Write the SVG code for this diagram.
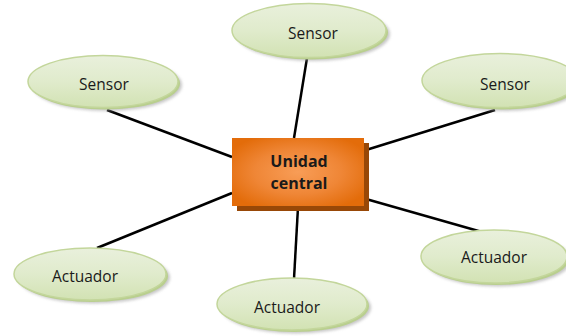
<svg xmlns="http://www.w3.org/2000/svg" width="566" height="336" viewBox="0 0 566 336">
<defs>
<linearGradient id="gEll" x1="0" y1="0" x2="0" y2="1">
<stop offset="0" stop-color="#e9f0dc"/>
<stop offset="0.5" stop-color="#e0ebcc"/>
<stop offset="1" stop-color="#d2e2b3"/>
</linearGradient>
<radialGradient id="gBox" cx="0.5" cy="0.5" r="0.6">
<stop offset="0" stop-color="#f89d57"/>
<stop offset="0.55" stop-color="#ef8636"/>
<stop offset="1" stop-color="#e36c0a"/>
</radialGradient>
<filter id="sh" x="-10%" y="-10%" width="130%" height="140%">
<feGaussianBlur stdDeviation="1.5"/>
</filter>
<style>
.ell{fill:url(#gEll);stroke:#c3d69b;stroke-width:1.5}
.bev{fill:#b9cf8e}
.esh{fill:#9a9a9a;opacity:0.55;filter:url(#sh)}
.lbl{font-family:"Open Sans","Liberation Sans",sans-serif;font-size:15.5px;fill:#1a1a1a;text-anchor:middle}
.blbl{font-family:"Open Sans","Liberation Sans",sans-serif;font-size:16px;font-weight:bold;fill:#1a1a1a;text-anchor:middle}
.con{stroke:#000;stroke-width:2.5;fill:none}
</style>
</defs>
<g id="connectors">
<line class="con" x1="307" y1="58" x2="294" y2="138"/>
<line class="con" x1="107" y1="110" x2="232" y2="157"/>
<line class="con" x1="495" y1="110" x2="366" y2="150"/>
<line class="con" x1="97" y1="248" x2="232" y2="193"/>
<line class="con" x1="298" y1="207" x2="294" y2="279"/>
<line class="con" x1="482" y1="232" x2="366" y2="199"/>
</g>
<g id="central">
<rect x="237" y="143" width="132" height="68" fill="#984807"/>
<rect x="232" y="138" width="132" height="68" fill="url(#gBox)"/>
<text class="blbl" x="299" y="167">Unidad</text>
<text class="blbl" x="299" y="189">central</text>
</g>
<g id="sensor-top">
<ellipse class="esh" cx="313" cy="34" rx="77" ry="27"/>
<ellipse class="bev" cx="311" cy="32.5" rx="77" ry="27"/>
<ellipse class="ell" cx="309" cy="30.5" rx="77" ry="27"/>
<text class="lbl" x="313" y="39">Sensor</text>
</g>
<g id="sensor-left">
<ellipse class="esh" cx="107" cy="85" rx="75" ry="26"/>
<ellipse class="bev" cx="105" cy="83.5" rx="75" ry="26"/>
<ellipse class="ell" cx="103" cy="81.5" rx="75" ry="26"/>
<text class="lbl" x="104" y="90">Sensor</text>
</g>
<g id="sensor-right">
<ellipse class="esh" cx="504" cy="84" rx="78" ry="27"/>
<ellipse class="bev" cx="502" cy="82.5" rx="78" ry="27"/>
<ellipse class="ell" cx="500" cy="80.5" rx="78" ry="27"/>
<text class="lbl" x="505" y="90">Sensor</text>
</g>
<g id="actuador-left">
<ellipse class="esh" cx="94" cy="277.5" rx="76" ry="26"/>
<ellipse class="bev" cx="92" cy="276" rx="76" ry="26"/>
<ellipse class="ell" cx="90" cy="274" rx="76" ry="26"/>
<text class="lbl" x="85" y="282">Actuador</text>
</g>
<g id="actuador-bottom">
<ellipse class="esh" cx="296" cy="307.5" rx="75" ry="26"/>
<ellipse class="bev" cx="294" cy="306" rx="75" ry="26"/>
<ellipse class="ell" cx="292" cy="304" rx="75" ry="26"/>
<text class="lbl" x="287" y="313">Actuador</text>
</g>
<g id="actuador-right">
<ellipse class="esh" cx="498" cy="260" rx="73" ry="26.5"/>
<ellipse class="bev" cx="496" cy="258.5" rx="73" ry="26.5"/>
<ellipse class="ell" cx="494" cy="256.5" rx="73" ry="26.5"/>
<text class="lbl" x="494" y="263">Actuador</text>
</g>
</svg>
